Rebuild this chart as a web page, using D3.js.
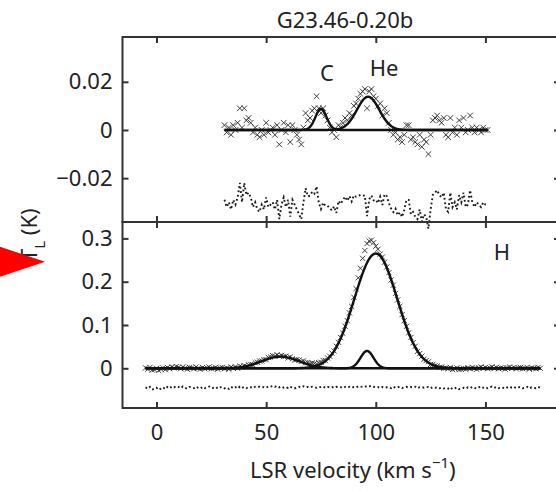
<!DOCTYPE html>
<html>
<head>
<meta charset="utf-8">
<script src="https://cdn.jsdelivr.net/npm/d3@7"></script>
<style>
  body { margin: 0; background: #fff; }
  text { font-family: "Noto Sans", sans-serif; fill: #222; }
</style>
</head>
<body>
<svg width="556" height="491"></svg>
<script>
// --- data ---
// top panel: C and He recombination lines, channels 31..151 km/s
var topStart = 31;
var topData = [
  0.002, -0.001, 0.001, -0.002, 0.002, 0.000, 0.003, 0.009, 0.001, 0.009,
  0.004, 0.005, 0.003, -0.001, 0.001, -0.002, -0.003, 0.000, -0.002, 0.003,
  -0.001, 0.000, 0.001, -0.002, 0.002, -0.006, 0.000, 0.003, -0.001, 0.002,
  -0.005, 0.002, 0.000, -0.002, -0.004, -0.006, 0.001, 0.007, 0.004, 0.005,
  0.008, 0.009, 0.014, 0.009, 0.007, 0.009, 0.006, 0.004, 0.001, -0.001,
  0.000, -0.003, 0.002, 0.001, 0.003, 0.005, 0.004, 0.007, 0.006, 0.010,
  0.011, 0.013, 0.015, 0.016, 0.017, 0.009, 0.016, 0.017, 0.014, 0.013,
  0.010, 0.011, 0.006, 0.009, 0.007, 0.003, 0.000, -0.002, -0.001, -0.004,
  -0.003, -0.005, -0.002, 0.002, 0.002, -0.004, -0.003, -0.005, -0.006, -0.002,
  -0.007, -0.004, -0.005, -0.010, -0.002, 0.004, 0.005, 0.006, 0.004, 0.003,
  0.005, -0.002, -0.003, 0.005, -0.001, 0.001, -0.002, 0.004, 0.001, 0.005,
  -0.001, 0.000, 0.006, 0.001, -0.001, 0.001, 0.000, -0.001, 0.001, 0.000,
  0.000
];
// gaussian fit components (amplitude K, centre km/s, FWHM km/s)
var topNames = ["C", "He"];
var topAmp = [0.0088, 0.0138];
var topCenter = [75, 96.5];
var topFwhm = [6, 12];

// bottom panel: H line, channels -5..175 km/s
var botStart = -5;
var botData = [
  0.001, -0.002, 0.002, -0.004, -0.003, 0.000, -0.005, -0.002, 0.001, -0.003,
  0.002, -0.001, 0.003, 0.001, 0.004, 0.002, -0.001, 0.003, 0.000, -0.002,
  0.002, 0.001, -0.001, 0.003, 0.000, -0.002, 0.002, -0.001, 0.001, 0.003,
  -0.001, 0.000, 0.002, -0.002, 0.001,
  0.002, -0.001, 0.001, -0.002, 0.003, 0.000, 0.003, 0.000, 0.005, 0.003,
  0.006, 0.004, 0.008, 0.009, 0.008, 0.013, 0.014, 0.017, 0.017, 0.020,
  0.020, 0.025, 0.026, 0.029, 0.028, 0.031, 0.028, 0.030, 0.027, 0.028,
  0.024, 0.026, 0.022, 0.019, 0.020, 0.019, 0.016, 0.017, 0.013, 0.013,
  0.011, 0.012, 0.011, 0.010, 0.013, 0.014, 0.018, 0.018, 0.024, 0.028,
  0.035, 0.040, 0.051, 0.060, 0.071, 0.081, 0.097, 0.110, 0.128, 0.143,
  0.164, 0.184, 0.209, 0.231, 0.254, 0.272, 0.288, 0.294, 0.296, 0.290,
  0.282, 0.275, 0.264, 0.257, 0.245, 0.234, 0.221, 0.204, 0.192, 0.173,
  0.158, 0.143, 0.124, 0.110, 0.097, 0.082, 0.071, 0.059, 0.051, 0.039,
  0.034, 0.028, 0.021, 0.018, 0.015, 0.009, 0.009, 0.006, 0.005, 0.002,
  0.003, 0.000, 0.001, -0.001, 0.002, -0.003,
  -0.001, 0.001, -0.003, -0.002, 0.000, -0.002, 0.001, -0.001, 0.002, 0.000,
  -0.002, 0.001, 0.003, 0.000, 0.002, -0.001, 0.001, 0.003, 0.000, 0.002,
  -0.001, 0.001, 0.000, -0.002, 0.001, 0.003, 0.000, 0.002, -0.001, 0.001,
  0.002, -0.001, 0.000, 0.002, -0.002, 0.001, 0.000, -0.001, 0.002, 0.000
];
var botAmp = [0.265, 0.040, 0.027];
var botCenter = [100, 96, 56.5];
var botFwhm = [23, 7, 20];

// residuals are plotted shifted down by these offsets
var topResidOffset = -0.031;
var botResidOffset = -0.045;

var xTicks = [0, 50, 100, 150];
var topTicks = [-0.02, 0, 0.02];
var topTickLabels = ["\u22120.02", "0", "0.02"];
var botTicks = [0, 0.1, 0.2, 0.3];
var botTickLabels = ["0", "0.1", "0.2", "0.3"];

// --- layout ---
var svg = d3.select("svg");
var left = 122.5, right = 560;
var topY0 = 37, midY = 222, botY1 = 408;

var x = d3.scaleLinear().domain([-15.5, 184]).range([left, right]);
var yTop = d3.scaleLinear().domain([-0.0382, 0.0386]).range([midY, topY0]);
var yBot = d3.scaleLinear().domain([-0.0917, 0.3379]).range([botY1, midY]);

function gauss(v, a, c, w) {
    var s = w / 2.3548;
    return a * Math.exp(-(v - c) * (v - c) / (2 * s * s));
}
function model(v, amps, cens, fw) {
    var t = 0;
    for (var i = 0; i < amps.length; i++) t += gauss(v, amps[i], cens[i], fw[i]);
    return t;
}

function drawPanel(data, start, amps, cens, fw, y, offset, crossSize, ticks, tickLabels, yTop0, yBot0) {
    var pts = data.map(function(d, i) { return {v: start + i, t: d}; });
    var g = svg.append("g");

    // crosses
    g.append("g").selectAll("path")
        .data(pts)
        .enter().append("path")
        .attr("d", function(d) {
            var cx = x(d.v), cy = y(d.t), s = crossSize;
            return "M" + (cx - s) + "," + (cy - s) + "L" + (cx + s) + "," + (cy + s) +
                   "M" + (cx - s) + "," + (cy + s) + "L" + (cx + s) + "," + (cy - s);
        })
        .attr("stroke", "#2a2a2a")
        .attr("stroke-width", 0.9)
        .attr("fill", "none");

    // residual (data - fit), dotted
    var resid = pts.map(function(d) { return {v: d.v, t: d.t - model(d.v, amps, cens, fw) + offset}; });
    g.append("path")
        .datum(resid)
        .attr("d", d3.line().x(function(d) { return x(d.v); }).y(function(d) { return y(d.t); }))
        .attr("fill", "none")
        .attr("stroke", "#1a1a1a")
        .attr("stroke-width", 1.9)
        .attr("stroke-dasharray", "1.8,2.6");

    // fit components
    var v0 = start, v1 = start + data.length - 1;
    var grid = d3.range(v0, v1 + 0.001, 0.25);
    for (var i = 0; i < amps.length; i++) {
        (function(k) {
            g.append("path")
                .datum(grid)
                .attr("d", d3.line()
                    .x(function(v) { return x(v); })
                    .y(function(v) { return y(gauss(v, amps[k], cens[k], fw[k])); }))
                .attr("fill", "none")
                .attr("stroke", "#111")
                .attr("stroke-width", 2.4);
        })(i);
    }

    // frame + ticks
    g.append("rect")
        .attr("x", left).attr("y", yTop0)
        .attr("width", right - left).attr("height", yBot0 - yTop0)
        .attr("fill", "none").attr("stroke", "#333").attr("stroke-width", 2);

    var ax = g.append("g").attr("transform", "translate(" + left + ",0)")
        .call(d3.axisLeft(y).tickValues(ticks).tickSize(-6).tickPadding(10)
              .tickFormat(function(d, i) { return tickLabels[i]; }));
    ax.select(".domain").remove();
    ax.selectAll("text").style("font-size", "22px").attr("fill", "#222");

    var axr = g.append("g").attr("transform", "translate(" + right + ",0)")
        .call(d3.axisRight(y).tickValues(ticks).tickSize(-6).tickFormat(""));
    axr.select(".domain").remove();

    var axt = g.append("g").attr("transform", "translate(0," + yTop0 + ")")
        .call(d3.axisTop(x).tickValues(xTicks).tickSize(-6).tickFormat(""));
    axt.select(".domain").remove();

    var axb = g.append("g").attr("transform", "translate(0," + yBot0 + ")")
        .call(d3.axisBottom(x).tickValues(xTicks).tickSize(-6).tickFormat(""));
    axb.select(".domain").remove();

    g.selectAll(".tick line").attr("stroke", "#333").attr("stroke-width", 2);
    return g;
}

drawPanel(topData, topStart, topAmp, topCenter, topFwhm, yTop, topResidOffset, 2.8,
          topTicks, topTickLabels, topY0, midY);
drawPanel(botData, botStart, botAmp, botCenter, botFwhm, yBot, botResidOffset, 2.6,
          botTicks, botTickLabels, midY, botY1);

// x tick labels under the bottom panel
var xl = svg.append("g").attr("transform", "translate(0," + botY1 + ")")
    .call(d3.axisBottom(x).tickValues(xTicks).tickSize(0).tickPadding(16));
xl.select(".domain").remove();
xl.selectAll("text").style("font-size", "22px").attr("fill", "#222");

// line labels
svg.append("text").attr("x", 327).attr("y", 81).attr("text-anchor", "middle")
    .style("font-size", "22px").text(topNames[0]);
svg.append("text").attr("x", 384).attr("y", 76).attr("text-anchor", "middle")
    .style("font-size", "22px").text(topNames[1]);
svg.append("text").attr("x", 502).attr("y", 260).attr("text-anchor", "middle")
    .style("font-size", "22px").text("H");

// title
svg.append("text").attr("x", 345).attr("y", 28).attr("text-anchor", "middle")
    .style("font-size", "22px").text("G23.46-0.20b");

// x label
var xlab = svg.append("text").attr("x", 250).attr("y", 478).style("font-size", "22px");
xlab.append("tspan").text("LSR velocity (km s");
xlab.append("tspan").attr("dy", -10).style("font-size", "15px").text("\u22121");
xlab.append("tspan").attr("dy", 10).text(")");

// y label
var ylab = svg.append("text").attr("transform", "translate(37,261) rotate(-90)")
    .style("font-size", "22px");
ylab.append("tspan").text("T");
ylab.append("tspan").attr("dy", 8).style("font-size", "15px").text("L");
ylab.append("tspan").attr("dy", -8).text(" (K)");

// red pointer
svg.append("path")
    .attr("d", "M-10,243.5L45,261.7L-10,280Z")
    .attr("fill", "#ff0000");
</script>
</body>
</html>
